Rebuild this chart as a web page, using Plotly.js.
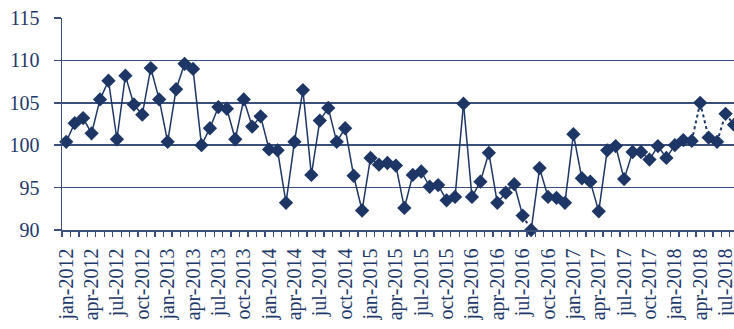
<!DOCTYPE html>
<html>
<head>
<meta charset="utf-8">
<script src="https://cdn.plot.ly/plotly-3.0.1.min.js"></script>
<style>html,body{margin:0;padding:0;overflow:hidden;background:#fff}</style>
</head>
<body>
<div id="chart" style="width:734px;height:329px"></div>
<script>
// Category labels
const monthNames = ['jan','feb','mar','apr','may','jun','jul','aug','sep','oct','nov','dec'];
const startYear = 2012;
// Monthly index values, jan-2012 .. aug-2018
const values = [
  100.4,102.6,103.2,101.4,105.4,107.6,100.7,108.2,104.8,103.6,
  109.1,105.4,100.4,106.6,109.6,109.0,100.0,102.0,104.5,104.3,
  100.7,105.4,102.2,103.4,99.5,99.4,93.2,100.4,106.5,96.5,
  102.9,104.4,100.4,102.0,96.4,92.3,98.5,97.7,97.9,97.6,
  92.6,96.5,96.9,95.1,95.3,93.5,93.9,104.9,93.9,95.7,
  99.1,93.2,94.4,95.4,91.7,90.0,97.3,93.9,93.8,93.2,
  101.3,96.1,95.7,92.2,99.4,99.9,96.0,99.2,99.2,98.3,
  99.9,98.5,100.0,100.6,100.5,105.0,100.9,100.4,103.7,102.4
];
// Segments (i -> i+1) drawn dotted
const dottedSegments = [54, 74, 75, 76, 77, 78];
const yTicks = [90, 95, 100, 105, 110, 115];

const labels = values.map((v, i) => monthNames[i % 12] + '-' + (startYear + Math.floor(i / 12)));
const idx = values.map((v, i) => i);
const tickIdx = idx.filter(i => i % 3 === 0);

function segTrace(dotted) {
  const xs = [], ys = [];
  for (let i = 0; i < values.length - 1; i++) {
    const isDot = dottedSegments.includes(i);
    if (isDot !== dotted) continue;
    xs.push(i, i + 1, i + 0.5);
    ys.push(values[i], values[i + 1], null);
  }
  return {x: xs, y: ys};
}
const navy = '#1d3665';
const solid = segTrace(false), dot = segTrace(true);
const traces = [
  {x: solid.x, y: solid.y, mode: 'lines', line: {color: navy, width: 1.5}, connectgaps: false, hoverinfo: 'skip', cliponaxis: false},
  {x: dot.x, y: dot.y, mode: 'lines', line: {color: navy, width: 2, dash: 'dot'}, connectgaps: false, hoverinfo: 'skip', cliponaxis: false},
  {x: idx, y: values, mode: 'markers', marker: {symbol: 'diamond', size: 11, color: navy, line: {width: 0}}, cliponaxis: false},
  // invisible trace to activate the boundary-tick axis
  {x: [idx[0]], y: [values[0]], xaxis: 'x2', mode: 'markers', marker: {opacity: 0}, hoverinfo: 'skip'}
];

const gridC = '#3b4f7c';
const font = {family: 'Times New Roman, Liberation Serif, DejaVu Serif, serif', size: 20, color: '#22386a'};
const xRange = [-0.5, 79.0];
const layout = {
  width: 734, height: 329,
  margin: {l: 62, r: 0, t: 18, b: 99, pad: 0},
  paper_bgcolor: '#fff', plot_bgcolor: '#fff',
  showlegend: false,
  font: font,
  xaxis: {
    type: 'linear', range: xRange,
    tickmode: 'array', tickvals: tickIdx, ticktext: tickIdx.map(i => labels[i]),
    tickangle: -90, ticks: '', ticklabelstandoff: 9, ticklabeloverflow: 'allow',
    showgrid: false, zeroline: false,
    showline: true, linecolor: gridC, linewidth: 1.5,
    tickfont: font
  },
  xaxis2: {
    type: 'linear', range: xRange, overlaying: 'x', anchor: 'y', side: 'bottom',
    tickmode: 'linear', tick0: -0.5, dtick: 1,
    ticks: 'outside', ticklen: 6, tickcolor: gridC, tickwidth: 1.3,
    showticklabels: false, showgrid: false, zeroline: false, showline: false
  },
  yaxis: {
    range: [90, 115], tickmode: 'array', tickvals: yTicks,
    ticks: 'outside', ticklen: 7, tickcolor: gridC, tickwidth: 1.5,
    showgrid: true, gridcolor: gridC, gridwidth: 1.5,
    zeroline: false, showline: true, linecolor: gridC, linewidth: 1.5,
    ticklabelstandoff: 10, tickfont: font
  }
};
Plotly.newPlot('chart', traces, layout, {staticPlot: true, displayModeBar: false});
</script>
</body>
</html>
